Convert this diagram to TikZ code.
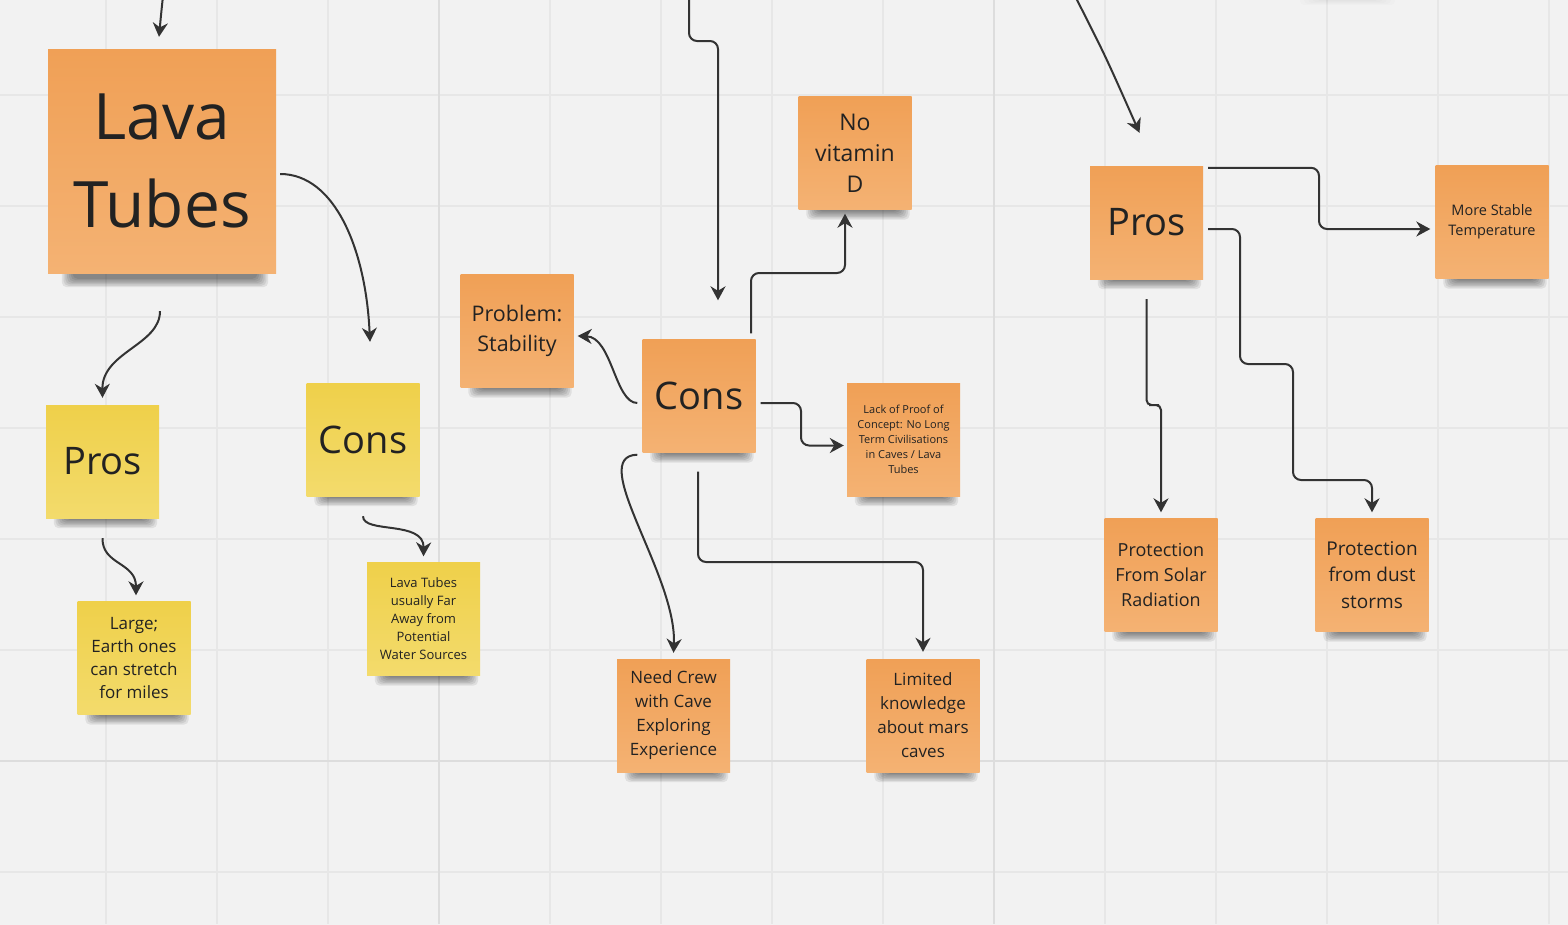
\documentclass[tikz,border=0pt]{standalone}
\usepackage{fontspec}
\setmainfont{Open Sans}
\usetikzlibrary{arrows.meta,calc}
\pgfdeclarelayer{bglayer}
\pgfdeclarelayer{shadowlayer}
\pgfsetlayers{bglayer,shadowlayer,main}
\definecolor{bg}{HTML}{F2F2F2}
\definecolor{gridc}{HTML}{E7E7E7}
\definecolor{gridd}{HTML}{DDDDDD}
\definecolor{otop}{HTML}{F0A056}
\definecolor{obot}{HTML}{F4B273}
\definecolor{ytop}{HTML}{EFD04A}
\definecolor{ybot}{HTML}{F3DB6C}
\definecolor{ink}{HTML}{222222}
\definecolor{linec}{HTML}{333333}
\newcommand\notefs[2]{\fontsize{#1}{#2}\selectfont}
% #1 node name, #2 side inset, #3 depth below the note
\newcommand\stickyshadow[3]{%
 \begin{pgfonlayer}{shadowlayer}
 \foreach \k in {0,...,6} {
  \fill[black, opacity=0.08, rounded corners=5pt]
   ($(#1.south west)+(#2+1.8*\k,-20)$) rectangle ($(#1.south east)+(-#2+6-1.8*\k,#3-1.4*\k)$);
 }
 \end{pgfonlayer}}
\begin{document}
\begin{tikzpicture}[x=1pt,y=-1pt,
 notebase/.style={rectangle, inner sep=0pt, minimum width=113pt, minimum height=113pt, align=center, text=ink},
 onote/.style={notebase, top color=otop, bottom color=obot},
 ynote/.style={notebase, top color=ytop, bottom color=ybot},
 conn/.style={draw=linec, line width=2pt, rounded corners=8pt, -{Stealth[length=14pt,width=15pt,inset=4.5pt]}},
]
\useasboundingbox (0,0) rectangle (1568,924);
% background and grid
\begin{pgfonlayer}{bglayer}
\fill[bg] (-5,-5) rectangle (1573,929);
\foreach \x in {106,217,...,1549} \draw[gridc, line width=1.8pt] (\x,0) -- (\x,924);
\foreach \y in {95,206,...,872} \draw[gridc, line width=1.8pt] (0,\y) -- (1568,\y);
\foreach \x in {439,994} \draw[gridd, line width=1.8pt] (\x,0) -- (\x,924);
\draw[gridd, line width=1.8pt] (0,761) -- (1568,761);
\end{pgfonlayer}
% faint shadow of a note above the frame
\foreach \k in {0,...,4} \fill[black, opacity=0.012, rounded corners=4pt] (1300+4*\k,-20) rectangle (1395-4*\k,5-1*\k);

% notes
\node[notebase, top color=otop, bottom color=obot, minimum width=228pt, minimum height=224pt, font=\notefs{64}{88}] (lt) at (162,161) {Lava\\Tubes};
\node[ynote, font=\notefs{38}{50}] (prosY) at (102.5,461.5) {Pros};
\node[ynote, font=\notefs{38}{50}] (consY) at (363,439.5) {Cons};
\node[ynote, font=\notefs{17}{23}] (large) at (134,658) {Large;\\Earth ones\\can stretch\\for miles};
\node[ynote, font=\notefs{13}{18}] (lavaU) at (423.5,619) {Lava Tubes\\usually Far\\Away from\\Potential\\Water Sources};
\node[onote, font=\notefs{21.5}{30}] (prob) at (517,331) {Problem:\\Stability};
\node[onote, font=\notefs{38}{50}] (consC) at (699,396) {Cons};
\node[onote, font=\notefs{23}{31}] (novit) at (855,153) {No\\vitamin\\D};
\node[onote, font=\notefs{11}{15}] (lack) at (903.5,439.5) {Lack of Proof of\\Concept: No Long\\Term Civilisations\\in Caves / Lava\\Tubes};
\node[onote, font=\notefs{17}{24}] (need) at (673.5,715.5) {Need Crew\\with Cave\\Exploring\\Experience};
\node[onote, font=\notefs{17}{24}] (lim) at (923,715.5) {Limited\\knowledge\\about mars\\caves};
\node[onote, font=\notefs{38}{50}] (prosR) at (1146.5,222.5) {Pros};
\node[onote, font=\notefs{14.5}{20}] (more) at (1492,222) {More Stable\\Temperature};
\node[onote, font=\notefs{18}{25}] (solar) at (1161,575) {Protection\\From Solar\\Radiation};
\node[onote, font=\notefs{19}{26.5}] (dust) at (1372,575) {Protection\\from dust\\storms};

% shadows
\stickyshadow{lt}{14}{14}
\foreach \n in {prosY,consY,large,lavaU,prob,consC,novit,lack,need,lim,prosR,more,solar,dust} {\stickyshadow{\n}{8}{10}}

% connectors
\coordinate (in1) at (163,-4);
\draw[conn] (in1) .. controls (161,15) .. ([xshift=-3pt,yshift=12pt]lt.north);
\draw[conn] ([xshift=4pt,yshift=-13pt]lt.east) .. controls (335,174) and (366,250) .. ([xshift=7pt,yshift=41pt]consY.north);
\draw[conn] ([xshift=-2pt,yshift=-38pt]lt.south) .. controls (160,345) and (102,352) .. ([yshift=7pt]prosY.north);
\draw[conn] ([yshift=-20pt]prosY.south) .. controls (102,565) and (136,562) .. ([xshift=2pt,yshift=6pt]large.north);
\draw[conn] ([yshift=-20pt]consY.south) .. controls (363,534) and (424,520) .. ([yshift=6pt]lavaU.north);

\coordinate (in2) at (689,-4);
\draw[conn] (in2) -- (689,41) -| ([xshift=19pt,yshift=39pt]consC.north);
\draw[conn] ([xshift=52pt,yshift=6pt]consC.north) |- (800,273) -| ([xshift=-10pt,yshift=-4pt]novit.south);
\draw[conn] ([xshift=-5pt,yshift=-7pt]consC.west) .. controls (615,403) and (612,337) .. ([xshift=4pt,yshift=-5pt]prob.east);
\draw[conn] ([xshift=5pt,yshift=-7pt]consC.east) -| (801,424) |- ([xshift=-3pt,yshift=-6pt]lack.west);
\draw[conn] ([xshift=-5pt,yshift=-2pt]consC.south west) .. controls (586,456) and (677,575) .. ([yshift=6pt]need.north);
\draw[conn] ([xshift=-1pt,yshift=-19pt]consC.south) |- (810,562) -| ([yshift=7pt]lim.north);

\coordinate (in3) at (1075,-4);
\draw[conn] (in3) .. controls (1105,55) .. ([xshift=-7pt,yshift=33pt]prosR.north);
\draw[conn] ([xshift=5pt,yshift=-2pt]prosR.north east) -| (1319,198) |- ([xshift=-5pt,yshift=-7pt]more.west);
\draw[conn] ([xshift=5pt,yshift=-6.5pt]prosR.east) -| (1240,364) -| (1293,480) -| ([yshift=6pt]dust.north);
\draw[conn, rounded corners=5pt] ([yshift=-20pt]prosR.south) |- (1154,405) -| ([yshift=6pt]solar.north);
\end{tikzpicture}
\end{document}
